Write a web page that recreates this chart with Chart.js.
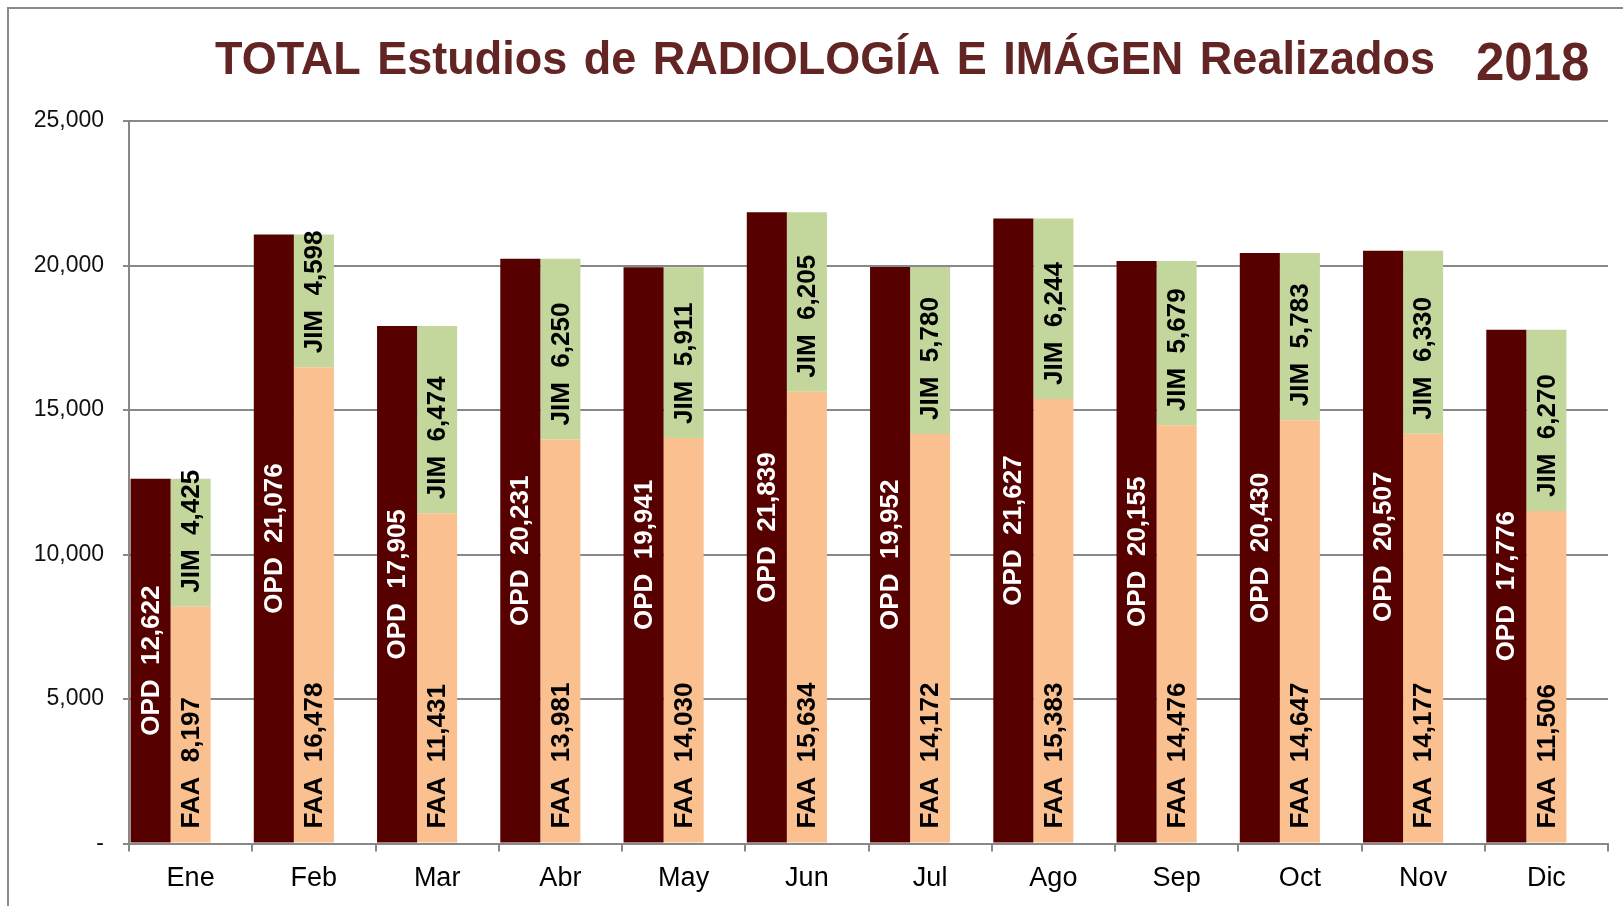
<!DOCTYPE html>
<html>
<head>
<meta charset="utf-8">
<script src="https://cdn.jsdelivr.net/npm/chart.js@4.4.1/dist/chart.umd.min.js"></script>
<style>
  html, body { margin: 0; padding: 0; background: #fff; overflow: hidden; }
  #wrap { position: relative; width: 1623px; height: 906px; }
  #frame { position: absolute; left: 7px; top: 7px; width: 1640px; height: 920px; border: 2px solid #8a8a8a; box-sizing: border-box; }
  canvas { position: absolute; left: 0; top: 0; }
</style>
</head>
<body>
<div id="wrap">
  <div id="frame"></div>
  <canvas id="chart" width="1623" height="906"></canvas>
</div>
<script>
(function () {
  'use strict';

  const FONT = '"Liberation Sans", Arial, Helvetica, sans-serif';

  const months = ['Ene', 'Feb', 'Mar', 'Abr', 'May', 'Jun', 'Jul', 'Ago', 'Sep', 'Oct', 'Nov', 'Dic'];
  const opd = [12622, 21076, 17905, 20231, 19941, 21839, 19952, 21627, 20155, 20430, 20507, 17776];
  const faa = [8197, 16478, 11431, 13981, 14030, 15634, 14172, 15383, 14476, 14647, 14177, 11506];
  const jim = [4425, 4598, 6474, 6250, 5911, 6205, 5780, 6244, 5679, 5783, 6330, 6270];
  const yMax = 25000;
  const yStep = 5000;

  const titleText = 'TOTAL Estudios de RADIOLOGÍA E IMÁGEN Realizados';
  const yearText = '2018';

  const nf = new Intl.NumberFormat('en-US');

  // titulo (dos tamaños de letra, por eso no uso el plugin title)
  const titlePlugin = {
    id: 'titlePlugin',
    afterDraw(chart) {
      const ctx = chart.ctx;
      ctx.save();
      ctx.fillStyle = '#632523';
      ctx.textBaseline = 'alphabetic';
      ctx.textAlign = 'left';

      ctx.font = 'bold 45px ' + FONT;
      if ('wordSpacing' in ctx) ctx.wordSpacing = '4px';
      ctx.save();
      ctx.translate(215, 74);
      ctx.scale(1, 1.04);
      ctx.fillText(titleText, 0, 0);
      ctx.restore();

      if ('wordSpacing' in ctx) ctx.wordSpacing = '0px';
      ctx.font = 'bold 51px ' + FONT;
      ctx.save();
      ctx.translate(1476, 80);
      ctx.scale(1, 1.05);
      ctx.fillText(yearText, 0, 0);
      ctx.restore();

      ctx.restore();
    }
  };

  // etiquetas verticales dentro de las barras
  const barLabels = {
    id: 'barLabels',
    afterDatasetsDraw(chart) {
      const ctx = chart.ctx;
      ctx.save();
      ctx.font = 'bold 26px ' + FONT;
      ctx.textBaseline = 'middle';

      chart.data.datasets.forEach((ds, di) => {
        if (!ds.tag) return;
        const meta = chart.getDatasetMeta(di);
        if (meta.hidden) return;
        meta.data.forEach((bar, i) => {
          const val = ds.data[i];
          if (val == null) return;
          const text = ds.tag + '  ' + nf.format(val);
          ctx.save();
          ctx.fillStyle = ds.tagColor;
          if (ds.tagPos === 'center') {
            ctx.translate(bar.x, (bar.y + bar.base) / 2);
            ctx.textAlign = 'center';
          } else {
            ctx.translate(bar.x, bar.base - 14);
            ctx.textAlign = 'left';
          }
          ctx.rotate(-Math.PI / 2);
          ctx.fillText(text, 0, 1);
          ctx.restore();
        });
      });

      ctx.restore();
    }
  };

  const gridGray = '#888888';

  new Chart(document.getElementById('chart'), {
    type: 'bar',
    data: {
      labels: months,
      datasets: [
        { label: 'OPD', data: opd, stack: 'a', backgroundColor: '#560000', tag: 'OPD', tagColor: '#ffffff', tagPos: 'center' },
        { label: 'FAA', data: faa, stack: 'b', backgroundColor: '#fac090', tag: 'FAA', tagColor: '#000000', tagPos: 'base' },
        { label: 'JIM', data: jim, stack: 'b', backgroundColor: '#c3d69b', tag: 'JIM', tagColor: '#000000', tagPos: 'base' },
        // serie vacia (hueco a la derecha de cada mes, como en el Excel)
        { label: '', data: [], stack: 'c', backgroundColor: 'rgba(0,0,0,0)' }
      ]
    },
    options: {
      responsive: false,
      animation: false,
      barPercentage: 1,
      categoryPercentage: 0.975,
      borderWidth: 0,
      layout: { padding: { top: 121, right: 15, bottom: 0, left: 0 } },
      plugins: {
        legend: { display: false },
        title: { display: false },
        tooltip: { enabled: false }
      },
      scales: {
        x: {
          stacked: true,
          grid: { offset: true, drawOnChartArea: false, drawTicks: true, tickLength: 8, color: gridGray, lineWidth: 2 },
          border: { color: gridGray, width: 2 },
          ticks: { color: '#000', padding: 11, font: { family: FONT, size: 27 } }
        },
        y: {
          stacked: true,
          min: 0,
          max: yMax,
          afterFit(scale) { scale.width = 129; },
          grid: { color: gridGray, lineWidth: 2, tickLength: 6 },
          border: { color: gridGray, width: 2 },
          ticks: {
            stepSize: yStep,
            padding: 19,
            color: '#111',
            font: { family: FONT, size: 23 },
            callback: (v) => (v === 0 ? '-' : nf.format(v))
          }
        }
      }
    },
    plugins: [barLabels, titlePlugin]
  });
})();
</script>
</body>
</html>
